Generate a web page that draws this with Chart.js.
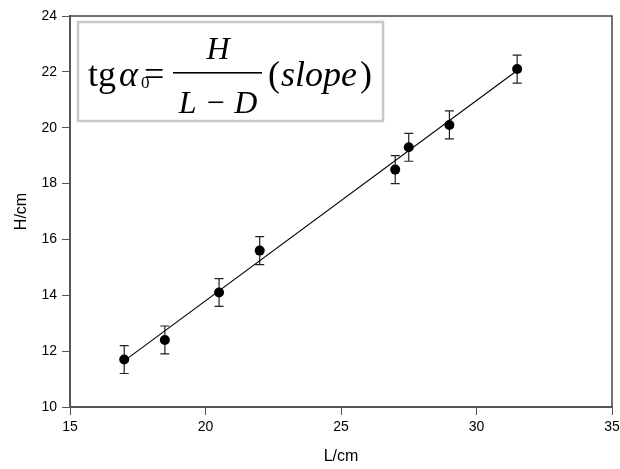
<!DOCTYPE html>
<html>
<head>
<meta charset="utf-8">
<script src="https://cdn.jsdelivr.net/npm/chart.js@4.4.0/dist/chart.umd.min.js"></script>
<style>
	html, body { margin: 0; padding: 0; background: #fff; }
</style>
</head>
<body>
<canvas id="mycanvas" width="620" height="469"></canvas>
<script>
var lengths = [17, 18.5, 20.5, 22, 27, 27.5, 29, 31.5];
var heights = [11.7, 12.4, 14.1, 15.6, 18.5, 19.3, 20.1, 22.1];
var heightErrors = [0.5, 0.5, 0.5, 0.5, 0.5, 0.5, 0.5, 0.5];
var fitLengths = [17, 31.5];
var fitHeights = [11.65, 22.05];
var xTicks = [15, 20, 25, 30, 35];
var yTicks = [10, 12, 14, 16, 18, 20, 22, 24];

var points = [];
for (var i in lengths) {
	points.push({x: lengths[i], y: heights[i]});
}
var fitLine = [];
for (var j in fitLengths) {
	fitLine.push({x: fitLengths[j], y: fitHeights[j]});
}

// error bars go under the markers
var errorBars = {
	id: 'errorBars',
	beforeDatasetsDraw: function(chart) {
		var ctx = chart.ctx;
		var xs = chart.scales.x, ys = chart.scales.y;
		ctx.save();
		ctx.strokeStyle = '#222';
		ctx.lineWidth = 1.2;
		for (var i = 0; i < lengths.length; i++) {
			var px = xs.getPixelForValue(lengths[i]);
			var top = ys.getPixelForValue(heights[i] + heightErrors[i]);
			var bot = ys.getPixelForValue(heights[i] - heightErrors[i]);
			ctx.beginPath();
			ctx.moveTo(px, top); ctx.lineTo(px, bot);
			ctx.moveTo(px - 4.5, top); ctx.lineTo(px + 4.5, top);
			ctx.moveTo(px - 4.5, bot); ctx.lineTo(px + 4.5, bot);
			ctx.stroke();
		}
		ctx.restore();
	}
};

// top and right sides of the frame
var frame = {
	id: 'frame',
	afterDraw: function(chart) {
		var a = chart.chartArea, ctx = chart.ctx;
		ctx.save();
		ctx.strokeStyle = '#444';
		ctx.lineWidth = 1.5;
		ctx.beginPath();
		ctx.moveTo(a.left, a.top);
		ctx.lineTo(a.right, a.top);
		ctx.lineTo(a.right, a.bottom);
		ctx.stroke();
		ctx.restore();
	}
};

// formula box in the upper left
var formula = {
	id: 'formula',
	afterDraw: function(chart) {
		var ctx = chart.ctx;
		ctx.save();
		ctx.strokeStyle = '#c8c8c8';
		ctx.lineWidth = 2.5;
		ctx.strokeRect(78, 22, 305, 99);
		ctx.fillStyle = '#000';
		ctx.textBaseline = 'alphabetic';
		ctx.textAlign = 'left';
		ctx.font = '36px "Liberation Serif", "Times New Roman", serif';
		ctx.fillText('tg', 88, 86);
		ctx.font = 'italic 36px "Liberation Serif", "Times New Roman", serif';
		ctx.fillText('\u03b1', 119, 86);
		ctx.font = '36px "Liberation Serif", "Times New Roman", serif';
		ctx.fillText('=', 144, 86);
		ctx.font = '17px "Liberation Serif", "Times New Roman", serif';
		ctx.fillText('0', 141, 88);
		// fraction
		ctx.fillRect(173, 72, 89, 1.6);
		ctx.textAlign = 'center';
		ctx.font = 'italic 32px "Liberation Serif", "Times New Roman", serif';
		ctx.fillText('H', 218, 59);
		ctx.fillText('L \u2212 D', 218, 113);
		ctx.textAlign = 'left';
		ctx.font = '36px "Liberation Serif", "Times New Roman", serif';
		ctx.fillText('(', 268, 86);
		var w = ctx.measureText('(').width;
		ctx.font = 'italic 36px "Liberation Serif", "Times New Roman", serif';
		ctx.fillText('slope', 268 + w + 1, 86);
		var w2 = ctx.measureText('slope').width;
		ctx.font = '36px "Liberation Serif", "Times New Roman", serif';
		ctx.fillText(')', 268 + w + w2 + 4, 86);
		ctx.restore();
	}
};

var ctx = document.getElementById('mycanvas');

var ScatterGraph = new Chart(ctx, {
	type: 'scatter',
	data: {
		datasets: [
			{
				label: 'H',
				data: points,
				showLine: false,
				pointRadius: 5,
				pointBackgroundColor: '#000',
				pointBorderColor: '#000',
				pointBorderWidth: 0
			},
			{
				label: 'fit',
				data: fitLine,
				showLine: true,
				pointRadius: 0,
				borderColor: '#000',
				borderWidth: 1.1,
				fill: false
			}
		]
	},
	options: {
		responsive: false,
		animation: false,
		layout: { padding: { left: 0, right: 8, top: 16, bottom: 0 } },
		plugins: {
			legend: { display: false },
			tooltip: { enabled: false }
		},
		scales: {
			x: {
				type: 'linear',
				min: 15,
				max: 35,
				afterBuildTicks: function(s) { s.ticks = xTicks.map(function(v){ return {value: v}; }); },
				afterFit: function(s) { s.height = 62; s.paddingLeft = 0; s.paddingRight = 0; },
				ticks: { color: '#000', padding: 4, font: { family: 'Liberation Sans, Arial', size: 14 } },
				grid: { drawOnChartArea: false, tickLength: 8, color: '#555', lineWidth: 1 },
				border: { display: true, color: '#555', width: 2 },
				title: { display: true, text: 'L/cm', color: '#000', padding: { top: 0, bottom: 3 }, font: { family: 'Liberation Sans, Arial', size: 16 } }
			},
			y: {
				type: 'linear',
				min: 10,
				max: 24,
				afterBuildTicks: function(s) { s.ticks = yTicks.map(function(v){ return {value: v}; }); },
				afterFit: function(s) { s.width = 70; s.paddingTop = 0; s.paddingBottom = 0; },
				ticks: { color: '#000', padding: 5, font: { family: 'Liberation Sans, Arial', size: 14 } },
				grid: { drawOnChartArea: false, tickLength: 8, color: '#555', lineWidth: 1 },
				border: { display: true, color: '#555', width: 2 },
				title: { display: true, text: 'H/cm', color: '#000', padding: { top: 12, bottom: 0 }, font: { family: 'Liberation Sans, Arial', size: 16 } }
			}
		}
	},
	plugins: [errorBars, frame, formula]
});
</script>
</body>
</html>
